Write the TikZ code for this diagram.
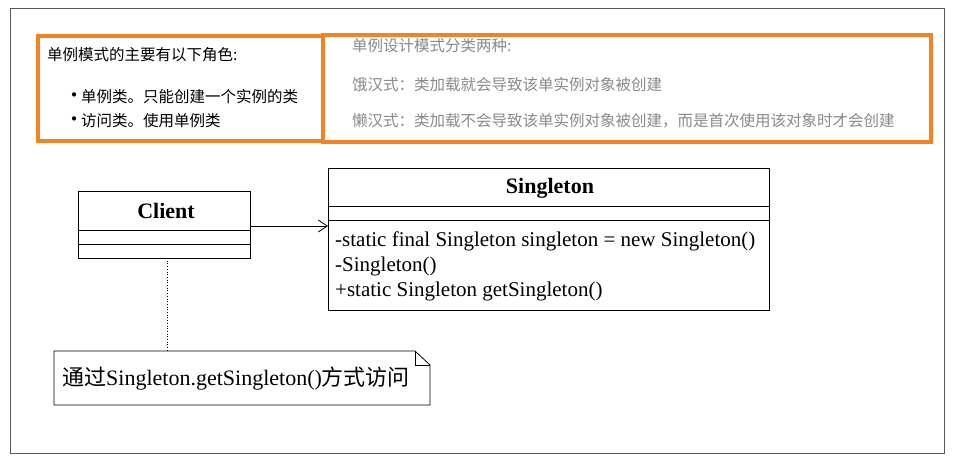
\documentclass[tikz,border=0pt]{standalone}
\usepackage{fontspec}
\setmainfont{Liberation Serif}
\newfontfamily\cjk{Noto Sans CJK SC}
\usetikzlibrary{arrows.meta}
\definecolor{org}{HTML}{F58220}
\definecolor{gr}{HTML}{8A8A8A}
\tikzset{ob/.style={draw=org,line width=3.5pt},
 uml/.style={draw,line width=0.8pt},
 tx/.style={anchor=west,inner sep=0,font=\cjk\fontsize{15.5}{17}\selectfont},
 mt/.style={anchor=west,inner sep=0,font=\fontsize{21}{22}\selectfont}}
\newcommand{\mybul}{\makebox[9pt][l]{\fontsize{20}{20}\selectfont •}}
\begin{document}
\begin{tikzpicture}[x=1pt,y=-1pt]
\useasboundingbox[fill=white] (0,0) rectangle (954,463);
\draw[gray!70!black,line width=0.7pt] (10,8) rectangle (944,453);
\draw[ob] (38,36) rectangle (323,141);
\draw[ob] (323,35) rectangle (931,142);
\node[tx] (t1) at (47,55) {单例模式的主要有以下角色:};
\node[tx] (b1) at (64,97) {\mybul\hspace{8pt}单例类。只能创建一个实例的类};
\node[tx] (b2) at (64,121) {\mybul\hspace{8pt}访问类。使用单例类};
\node[tx,text=gr] (r1) at (352,46) {单例设计模式分类两种:};
\node[tx,text=gr] (r2) at (352,85) {饿汉式：类加载就会导致该单实例对象被创建};
\node[tx,text=gr] (r3) at (352,121) {懒汉式：类加载不会导致该单实例对象被创建，而是首次使用该对象时才会创建};
% Client
\draw[uml] (78,191) rectangle (250,258);
\draw[uml] (78,230) -- (250,230);
\draw[uml] (78,244) -- (250,244);
\node[font=\bfseries\fontsize{22}{24}\selectfont,inner sep=0] (cn) at (166,211) {Client};
\coordinate (cr) at (250,226);
% Singleton
\draw[uml] (328,168) rectangle (769,310);
\draw[uml] (328,206) -- (769,206);
\draw[uml] (328,220) -- (769,220);
\node[font=\bfseries\fontsize{22}{24}\selectfont,inner sep=0] (sn) at (550,188) {Singleton};
\coordinate (sl) at (328,226);
\node[mt] (m1) at (335,241) {-static final Singleton singleton = new Singleton()};
\node[mt] (m2) at (335,266) {-Singleton()};
\node[mt] (m3) at (335,291) {+static Singleton getSingleton()};
\draw[line width=0.8pt,-{Straight Barb[length=9pt,width=12pt]}] (cr) -- (sl);
% note
\draw[uml] (54,351) -- (415,351) -- (430,365) -- (430,405) -- (54,405) -- cycle;
\draw[uml] (415,351) -- (415,365) -- (430,365);
\coordinate (ct) at (167,258);
\coordinate (nt) at (167,351);
\draw[dotted,line width=0.7pt] (ct) -- (nt);
\node[anchor=west,inner sep=0,font=\fontsize{22}{24}\selectfont] (nl) at (62,379) {{\cjk 通过}Singleton.getSingleton(){\cjk 方式访问}};
\end{tikzpicture}
\end{document}
